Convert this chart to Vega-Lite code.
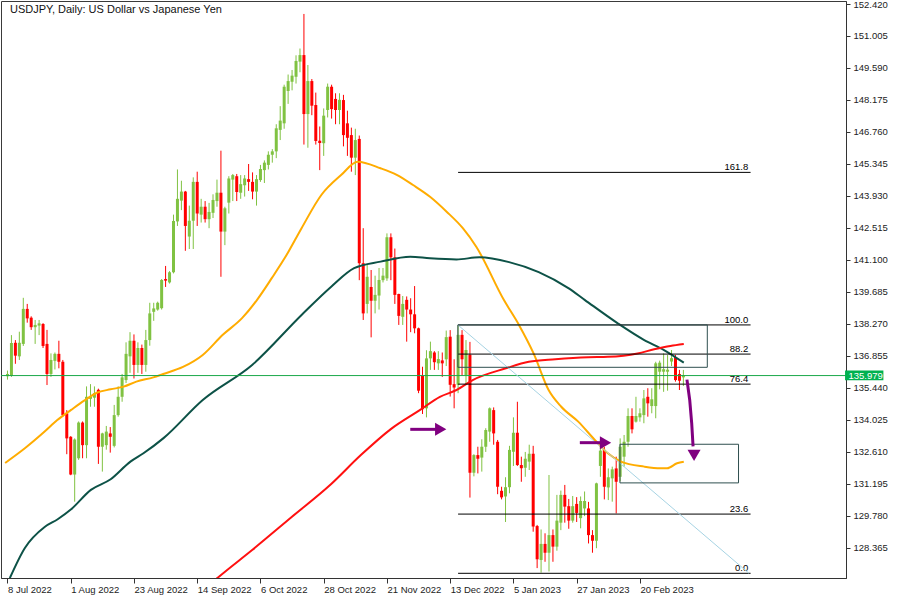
{
"$schema": "https://vega.github.io/schema/vega-lite/v6.json",
"width": 845, "height": 577,
"autosize": {"type": "none"},
"padding": {"left": 1, "top": 1, "right": 54, "bottom": 21},
"background": "white",
"config": {"view": {"stroke": "#3a3a3a", "strokeWidth": 1}, "text": {"font": "Liberation Sans"}},
"datasets": {
"candles": [
{"i":0,"o":135.95,"h":136.2,"l":135.8,"c":136.05},
{"i":1,"o":135.96,"h":137.77,"l":135.92,"c":137.42},
{"i":2,"o":137.43,"h":137.55,"l":136.5,"c":136.86},
{"i":3,"o":136.83,"h":137.92,"l":136.67,"c":137.43},
{"i":4,"o":137.38,"h":139.42,"l":137.29,"c":138.93},
{"i":5,"o":138.93,"h":139.15,"l":138.32,"c":138.51},
{"i":6,"o":138.54,"h":138.6,"l":138.0,"c":138.12},
{"i":7,"o":138.12,"h":138.44,"l":137.38,"c":138.22},
{"i":8,"o":138.19,"h":138.44,"l":137.77,"c":138.29},
{"i":9,"o":138.26,"h":138.3,"l":137.2,"c":137.29},
{"i":10,"o":137.38,"h":138.0,"l":135.56,"c":136.05},
{"i":11,"o":136.05,"h":136.96,"l":135.92,"c":136.67},
{"i":12,"o":136.63,"h":137.0,"l":136.25,"c":136.94},
{"i":13,"o":136.94,"h":137.52,"l":136.3,"c":136.59},
{"i":14,"o":136.59,"h":136.67,"l":134.16,"c":134.23},
{"i":15,"o":134.31,"h":134.45,"l":132.5,"c":133.2},
{"i":16,"o":133.27,"h":133.3,"l":131.57,"c":131.6},
{"i":17,"o":131.6,"h":133.2,"l":130.4,"c":133.15},
{"i":18,"o":132.32,"h":133.95,"l":132.25,"c":133.9},
{"i":19,"o":133.9,"h":133.95,"l":132.32,"c":132.9},
{"i":20,"o":132.9,"h":135.5,"l":132.32,"c":135.04},
{"i":21,"o":134.95,"h":135.6,"l":134.6,"c":135.05},
{"i":22,"o":135.0,"h":135.5,"l":134.6,"c":135.2},
{"i":23,"o":135.35,"h":135.4,"l":132.07,"c":132.83},
{"i":24,"o":132.83,"h":133.45,"l":131.73,"c":133.42},
{"i":25,"o":132.9,"h":133.75,"l":132.7,"c":133.5},
{"i":26,"o":133.42,"h":133.7,"l":132.57,"c":133.27},
{"i":27,"o":132.87,"h":134.68,"l":132.8,"c":134.23},
{"i":28,"o":134.23,"h":135.5,"l":134.16,"c":135.04},
{"i":29,"o":135.04,"h":136.05,"l":134.82,"c":135.9},
{"i":30,"o":135.78,"h":137.45,"l":135.65,"c":136.94},
{"i":31,"o":136.83,"h":137.9,"l":136.1,"c":137.52},
{"i":32,"o":137.52,"h":137.8,"l":135.85,"c":136.45},
{"i":33,"o":136.45,"h":137.45,"l":136.1,"c":137.2},
{"i":34,"o":137.2,"h":137.35,"l":136.05,"c":136.45},
{"i":35,"o":136.45,"h":138.0,"l":136.15,"c":137.55},
{"i":36,"o":137.55,"h":139.2,"l":137.3,"c":138.73},
{"i":37,"o":138.8,"h":139.2,"l":138.4,"c":138.95},
{"i":38,"o":138.9,"h":139.25,"l":138.85,"c":139.2},
{"i":39,"o":138.96,"h":140.25,"l":138.9,"c":140.21},
{"i":40,"o":140.25,"h":140.83,"l":139.9,"c":140.18},
{"i":41,"o":140.1,"h":140.6,"l":140.05,"c":140.55},
{"i":42,"o":140.55,"h":143.1,"l":140.5,"c":142.82},
{"i":43,"o":142.8,"h":145.1,"l":142.6,"c":143.8},
{"i":44,"o":143.72,"h":144.6,"l":143.3,"c":144.12},
{"i":45,"o":144.12,"h":144.15,"l":141.5,"c":142.6},
{"i":46,"o":142.13,"h":143.5,"l":141.58,"c":142.83},
{"i":47,"o":142.83,"h":144.75,"l":141.58,"c":144.55},
{"i":48,"o":144.55,"h":145.0,"l":142.6,"c":143.15},
{"i":49,"o":143.1,"h":143.8,"l":142.75,"c":143.45},
{"i":50,"o":143.45,"h":143.7,"l":142.75,"c":142.9},
{"i":51,"o":142.9,"h":143.62,"l":142.5,"c":143.22},
{"i":52,"o":143.18,"h":144.0,"l":142.95,"c":143.75},
{"i":53,"o":143.7,"h":144.65,"l":143.45,"c":144.07},
{"i":54,"o":144.07,"h":145.93,"l":140.35,"c":142.35},
{"i":55,"o":142.35,"h":143.45,"l":141.75,"c":143.38},
{"i":56,"o":143.63,"h":144.8,"l":143.15,"c":144.7},
{"i":57,"o":144.65,"h":144.9,"l":143.7,"c":144.85},
{"i":58,"o":144.8,"h":144.9,"l":143.7,"c":144.1},
{"i":59,"o":144.07,"h":144.85,"l":143.8,"c":144.45},
{"i":60,"o":144.4,"h":144.85,"l":143.9,"c":144.7},
{"i":61,"o":144.67,"h":145.34,"l":144.15,"c":144.55},
{"i":62,"o":144.55,"h":144.97,"l":143.78,"c":144.12},
{"i":63,"o":144.12,"h":144.85,"l":143.5,"c":144.67},
{"i":64,"o":144.63,"h":145.3,"l":144.55,"c":145.12},
{"i":65,"o":145.07,"h":145.5,"l":144.5,"c":145.4},
{"i":66,"o":145.3,"h":145.9,"l":145.1,"c":145.75},
{"i":67,"o":145.75,"h":146.0,"l":145.4,"c":145.9},
{"i":68,"o":145.9,"h":147.1,"l":145.6,"c":146.92},
{"i":69,"o":146.85,"h":147.9,"l":146.4,"c":147.26},
{"i":70,"o":147.14,"h":148.85,"l":146.9,"c":148.76},
{"i":71,"o":148.57,"h":149.3,"l":148.0,"c":149.01},
{"i":72,"o":148.98,"h":149.5,"l":148.6,"c":149.25},
{"i":73,"o":149.2,"h":150.15,"l":148.9,"c":149.9},
{"i":74,"o":149.87,"h":150.45,"l":149.4,"c":150.16},
{"i":75,"o":150.16,"h":151.98,"l":146.2,"c":147.55},
{"i":76,"o":147.55,"h":149.72,"l":146.06,"c":149.01},
{"i":77,"o":149.01,"h":149.1,"l":147.5,"c":147.92},
{"i":78,"o":147.95,"h":148.5,"l":146.2,"c":146.36},
{"i":79,"o":146.37,"h":147.0,"l":145.07,"c":146.27},
{"i":80,"o":146.26,"h":147.8,"l":145.7,"c":147.48},
{"i":81,"o":147.73,"h":148.9,"l":147.4,"c":148.76},
{"i":82,"o":148.76,"h":148.85,"l":147.35,"c":147.77},
{"i":83,"o":148.22,"h":148.47,"l":147.1,"c":147.73},
{"i":84,"o":147.73,"h":148.47,"l":147.1,"c":148.18},
{"i":85,"o":148.17,"h":148.4,"l":146.12,"c":146.62},
{"i":86,"o":147.14,"h":147.7,"l":145.7,"c":146.5},
{"i":87,"o":146.62,"h":146.95,"l":145.0,"c":145.62},
{"i":88,"o":145.62,"h":146.9,"l":144.85,"c":146.4},
{"i":89,"o":146.45,"h":146.6,"l":140.2,"c":140.95},
{"i":90,"o":140.95,"h":142.5,"l":138.44,"c":138.73},
{"i":91,"o":139.15,"h":140.87,"l":138.73,"c":140.35},
{"i":92,"o":139.9,"h":140.65,"l":137.67,"c":139.29},
{"i":93,"o":139.29,"h":140.4,"l":138.73,"c":139.55},
{"i":94,"o":139.52,"h":140.74,"l":138.9,"c":140.21},
{"i":95,"o":140.2,"h":140.74,"l":140.1,"c":140.4},
{"i":96,"o":140.28,"h":142.27,"l":140.17,"c":142.1},
{"i":97,"o":142.1,"h":142.27,"l":140.2,"c":141.21},
{"i":98,"o":141.21,"h":141.6,"l":139.15,"c":139.55},
{"i":99,"o":139.59,"h":139.6,"l":138.22,"c":138.62},
{"i":100,"o":138.58,"h":139.5,"l":138.22,"c":139.15},
{"i":101,"o":139.33,"h":139.48,"l":137.48,"c":138.9},
{"i":102,"o":138.9,"h":139.4,"l":137.9,"c":138.69},
{"i":103,"o":138.69,"h":139.94,"l":137.85,"c":138.07},
{"i":104,"o":138.07,"h":138.1,"l":135.2,"c":135.31},
{"i":105,"o":135.96,"h":136.37,"l":134.28,"c":134.49},
{"i":106,"o":134.53,"h":137.1,"l":134.13,"c":136.74},
{"i":107,"o":136.74,"h":137.48,"l":136.23,"c":137.06},
{"i":108,"o":137.0,"h":137.06,"l":136.23,"c":136.57},
{"i":109,"o":136.52,"h":137.06,"l":136.23,"c":136.71},
{"i":110,"o":136.65,"h":137.0,"l":135.92,"c":136.52},
{"i":111,"o":136.7,"h":137.97,"l":136.4,"c":137.68},
{"i":112,"o":137.7,"h":137.99,"l":135.05,"c":135.57},
{"i":113,"o":135.6,"h":136.7,"l":134.53,"c":135.45},
{"i":114,"o":135.57,"h":138.22,"l":135.2,"c":137.78},
{"i":115,"o":137.78,"h":137.99,"l":135.96,"c":136.7},
{"i":116,"o":135.99,"h":137.55,"l":135.57,"c":137.11},
{"i":117,"o":136.9,"h":137.47,"l":130.58,"c":131.68},
{"i":118,"o":131.68,"h":132.5,"l":131.52,"c":132.46},
{"i":119,"o":132.46,"h":132.83,"l":131.65,"c":132.3},
{"i":120,"o":132.35,"h":133.16,"l":131.73,"c":132.83},
{"i":121,"o":132.83,"h":133.65,"l":132.6,"c":133.57},
{"i":122,"o":133.5,"h":134.57,"l":133.05,"c":134.53},
{"i":123,"o":134.45,"h":134.57,"l":132.92,"c":133.42},
{"i":124,"o":133.05,"h":133.13,"l":130.73,"c":131.06},
{"i":125,"o":130.88,"h":131.06,"l":130.5,"c":130.59},
{"i":126,"o":130.63,"h":131.48,"l":129.5,"c":131.04},
{"i":127,"o":131.04,"h":132.87,"l":130.77,"c":132.69},
{"i":128,"o":132.61,"h":134.13,"l":131.98,"c":133.45},
{"i":129,"o":133.45,"h":134.82,"l":131.98,"c":132.02},
{"i":130,"o":132.02,"h":132.39,"l":131.28,"c":131.88},
{"i":131,"o":131.9,"h":132.6,"l":131.5,"c":132.3},
{"i":132,"o":132.17,"h":132.92,"l":131.8,"c":132.52},
{"i":133,"o":132.52,"h":132.87,"l":129.07,"c":129.3},
{"i":134,"o":129.32,"h":129.37,"l":127.46,"c":127.85},
{"i":135,"o":127.82,"h":129.17,"l":127.26,"c":128.53},
{"i":136,"o":128.53,"h":129.0,"l":127.74,"c":128.14},
{"i":137,"o":128.14,"h":131.58,"l":127.31,"c":128.92},
{"i":138,"o":128.92,"h":129.17,"l":127.74,"c":128.41},
{"i":139,"o":128.41,"h":130.7,"l":128.23,"c":129.56},
{"i":140,"o":129.47,"h":130.89,"l":129.14,"c":130.7},
{"i":141,"o":130.7,"h":131.14,"l":129.47,"c":130.18},
{"i":142,"o":130.2,"h":130.52,"l":129.2,"c":129.56},
{"i":143,"o":129.56,"h":130.65,"l":129.47,"c":130.2},
{"i":144,"o":130.3,"h":130.6,"l":129.5,"c":129.9},
{"i":145,"o":129.67,"h":130.63,"l":129.22,"c":130.43},
{"i":146,"o":130.1,"h":130.85,"l":129.76,"c":130.43},
{"i":147,"o":130.1,"h":130.39,"l":128.55,"c":128.92},
{"i":148,"o":128.92,"h":129.14,"l":128.14,"c":128.67},
{"i":149,"o":128.67,"h":131.24,"l":128.34,"c":131.21},
{"i":150,"o":131.98,"h":133.16,"l":131.5,"c":132.66},
{"i":151,"o":132.69,"h":132.83,"l":130.5,"c":131.06},
{"i":152,"o":131.03,"h":131.87,"l":130.47,"c":131.48},
{"i":153,"o":131.43,"h":131.95,"l":130.4,"c":131.83},
{"i":154,"o":131.87,"h":132.39,"l":129.88,"c":131.28},
{"i":155,"o":131.5,"h":133.2,"l":131.3,"c":132.83},
{"i":156,"o":132.39,"h":133.35,"l":131.95,"c":133.05},
{"i":157,"o":133.05,"h":134.53,"l":132.83,"c":134.19},
{"i":158,"o":134.19,"h":134.53,"l":133.42,"c":133.6},
{"i":159,"o":133.94,"h":135.04,"l":133.9,"c":134.19},
{"i":160,"o":134.13,"h":134.53,"l":133.94,"c":134.31},
{"i":161,"o":134.23,"h":135.34,"l":133.87,"c":134.97},
{"i":162,"o":135.04,"h":135.42,"l":134.16,"c":134.75},
{"i":163,"o":134.63,"h":135.42,"l":134.31,"c":134.93},
{"i":164,"o":134.63,"h":136.59,"l":134.09,"c":136.52},
{"i":165,"o":136.15,"h":136.64,"l":135.37,"c":136.55},
{"i":166,"o":136.15,"h":136.96,"l":135.26,"c":136.26},
{"i":167,"o":136.15,"h":136.89,"l":135.31,"c":136.24},
{"i":168,"o":136.6,"h":137.11,"l":136.4,"c":136.75},
{"i":169,"o":136.8,"h":136.89,"l":135.71,"c":135.78},
{"i":170,"o":136.05,"h":136.23,"l":135.34,"c":135.75},
{"i":171,"o":135.9,"h":136.23,"l":135.52,"c":135.98}
],
"ma": [
{"s":"a","i":-0.6,"v":132.11},{"s":"a","i":4.4,"v":132.76},{"s":"a","i":9.4,"v":133.5},{"s":"a","i":12.6,"v":134.01},{"s":"a","i":16.1,"v":134.46},{"s":"a","i":19.4,"v":134.87},{"s":"a","i":22.6,"v":135.22},{"s":"a","i":26.1,"v":135.37},{"s":"a","i":29.4,"v":135.49},{"s":"a","i":32.6,"v":135.71},{"s":"a","i":36.9,"v":135.9},{"s":"a","i":39.4,"v":136.05},{"s":"a","i":44.4,"v":136.36},{"s":"a","i":49.4,"v":136.89},{"s":"a","i":54.4,"v":137.77},{"s":"a","i":59.4,"v":138.53},{"s":"a","i":63.1,"v":139.32},{"s":"a","i":66.9,"v":140.3},{"s":"a","i":70.6,"v":141.31},{"s":"a","i":74.4,"v":142.5},{"s":"a","i":79.4,"v":143.97},{"s":"a","i":84.4,"v":144.85},{"s":"a","i":88.6,"v":145.44},{"s":"a","i":94.4,"v":145.15},{"s":"a","i":98.6,"v":144.85},{"s":"a","i":102.6,"v":144.41},{"s":"a","i":106.9,"v":143.89},{"s":"a","i":111.1,"v":143.23},{"s":"a","i":115.2,"v":142.5},{"s":"a","i":118.6,"v":141.68},{"s":"a","i":125.6,"v":139.32},{"s":"a","i":129.4,"v":138.22},{"s":"a","i":133.1,"v":136.96},{"s":"a","i":136.9,"v":135.34},{"s":"a","i":140.1,"v":134.6},{"s":"a","i":144.4,"v":133.94},{"s":"a","i":148.6,"v":133.13},{"s":"a","i":151.9,"v":132.54},{"s":"a","i":155.2,"v":132.17},{"s":"a","i":161.1,"v":131.95},{"s":"a","i":165.2,"v":131.88},{"s":"a","i":166.9,"v":131.88},{"s":"a","i":169.4,"v":132.1},{"s":"a","i":171.1,"v":132.17},
{"s":"b","i":0.6,"v":127.02},{"s":"b","i":4.4,"v":128.35},{"s":"b","i":9.4,"v":129.28},{"s":"b","i":12.7,"v":129.62},{"s":"b","i":16.1,"v":130.06},{"s":"b","i":21.1,"v":130.92},{"s":"b","i":26.1,"v":131.39},{"s":"b","i":31.1,"v":132.17},{"s":"b","i":34.4,"v":132.54},{"s":"b","i":39.4,"v":133.2},{"s":"b","i":49.4,"v":134.9},{"s":"b","i":61.9,"v":136.45},{"s":"b","i":74.4,"v":138.66},{"s":"b","i":81.9,"v":139.91},{"s":"b","i":87.7,"v":140.73},{"s":"b","i":94.4,"v":141.02},{"s":"b","i":101.9,"v":141.24},{"s":"b","i":106.9,"v":141.17},{"s":"b","i":113.6,"v":141.12},{"s":"b","i":119.4,"v":141.21},{"s":"b","i":126.9,"v":141.0},{"s":"b","i":134.4,"v":140.56},{"s":"b","i":141.9,"v":139.85},{"s":"b","i":146.1,"v":139.32},{"s":"b","i":154.4,"v":138.29},{"s":"b","i":161.1,"v":137.55},{"s":"b","i":166.1,"v":137.11},{"s":"b","i":171.1,"v":136.55},
{"s":"c","i":49.4,"v":126.45},{"s":"c","i":53.1,"v":127.02},{"s":"c","i":61.9,"v":128.26},{"s":"c","i":71.9,"v":129.72},{"s":"c","i":81.9,"v":131.18},{"s":"c","i":89.4,"v":132.46},{"s":"c","i":96.9,"v":133.6},{"s":"c","i":104.4,"v":134.46},{"s":"c","i":109.4,"v":135.04},{"s":"c","i":113.6,"v":135.34},{"s":"c","i":117.7,"v":135.78},{"s":"c","i":126.1,"v":136.3},{"s":"c","i":131.9,"v":136.59},{"s":"c","i":138.6,"v":136.7},{"s":"c","i":146.9,"v":136.79},{"s":"c","i":151.9,"v":136.81},{"s":"c","i":159.4,"v":136.96},{"s":"c","i":163.6,"v":137.14},{"s":"c","i":167.7,"v":137.29},{"s":"c","i":171.1,"v":137.38}
],
"fib": [
{"lv":"161.8","p":144.97},{"lv":"100.0","p":138.22},{"lv":"88.2","p":136.93},{"lv":"76.4","p":135.6},{"lv":"23.6","p":129.85},{"lv":"0.0","p":127.23}
],
"boxes": [
{"i0":113.95,"i1":177.05,"p0":138.22,"p1":136.345},
{"i0":154.95,"i1":184.95,"p0":132.94,"p1":131.23}
],
"diag": [{"i0":113.95,"p0":138.22,"i1":187.6,"p1":127.23}],
"arrows": [
{"a":1,"k":0,"i":101.9,"p":133.6},{"a":1,"k":1,"i":108.6,"p":133.6},
{"a":2,"k":0,"i":144.8,"p":133.01},{"a":2,"k":1,"i":150.2,"p":133.01},
{"a":3,"k":0,"i":171.9,"p":135.8},{"a":3,"k":1,"i":172.6,"p":134.9},{"a":3,"k":2,"i":173.1,"p":133.88},{"a":3,"k":3,"i":173.45,"p":132.85}
],
"heads": [
{"d":"r","i":109.6,"p":133.6},{"d":"r","i":151.3,"p":133.01},{"d":"d","i":173.7,"p":132.45}
],
"last": [{"p":135.979,"t":"135.979"}],
"title": [{"t":"USDJPY, Daily:  US Dollar vs Japanese Yen"}]
},
"layer": [
{"data":{"name":"candles"},
 "mark":{"type":"rule","strokeWidth":1},
 "encoding":{
  "x":{"field":"i","type":"quantitative","title":null,"scale":{"domain":[-0.375,210.875],"nice":false,"zero":false},
   "axis":{"values":[0,16,32,48,64,80,96,112,128,144,160],"tickCount":60,
    "labelExpr":"['8 Jul 2022','1 Aug 2022','23 Aug 2022','14 Sep 2022','6 Oct 2022','28 Oct 2022','21 Nov 2022','13 Dec 2022','5 Jan 2023','27 Jan 2023','20 Feb 2023'][round(datum.value/16)]",
    "labelAlign":"left","labelBaseline":"top","labelPadding":1,"tickSize":5,"tickColor":"#333","domainColor":"#333","labelColor":"#222","labelFont":"Liberation Sans","labelFontSize":9.5,"grid":false,"title":null,"labelFlush":false,"labelOverlap":false,"labelBound":false}},
  "y":{"field":"l","type":"quantitative","title":null,"scale":{"domain":[127.022,152.553],"nice":false,"zero":false},
   "axis":{"orient":"right","values":[128.365,129.78,131.195,132.61,134.025,135.44,136.855,138.27,139.685,141.1,142.515,143.93,145.345,146.76,148.175,149.59,151.005,152.42],"tickCount":60,
    "format":".3f","tickSize":4,"labelPadding":3,"labelAlign":"left","labelBaseline":"middle","labelFont":"Liberation Sans","labelFontSize":9.5,"labelColor":"#222","tickColor":"#333","domainColor":"#333","grid":false,"title":null,"labelFlush":false,"labelOverlap":false,"labelBound":false}},
  "y2":{"field":"h"},
  "color":{"condition":{"test":"datum.c >= datum.o","value":"#80c242"},"value":"#ff0000"}}},
{"data":{"name":"candles"},
 "mark":{"type":"bar","width":3},
 "encoding":{
  "x":{"field":"i","type":"quantitative","title":null},
  "y":{"field":"o","type":"quantitative","title":null},
  "y2":{"field":"c"},
  "color":{"condition":{"test":"datum.c >= datum.o","value":"#80c242"},"value":"#ff0000"}}},
{"data":{"name":"ma"},
 "mark":{"type":"line","strokeWidth":2,"interpolate":"monotone","clip":true},
 "encoding":{
  "x":{"field":"i","type":"quantitative","title":null},
  "y":{"field":"v","type":"quantitative","title":null},
  "color":{"field":"s","type":"nominal","scale":{"domain":["a","b","c"],"range":["#ffac00","#0d5247","#ff1010"]},"legend":null}}},
{"data":{"name":"last"},
 "mark":{"type":"rule","color":"#1aa84a","strokeWidth":1},
 "encoding":{"y":{"field":"p","type":"quantitative","title":null}}},
{"data":{"name":"fib"},
 "mark":{"type":"rule","color":"#000000","strokeWidth":1},
 "encoding":{"x":{"datum":114,"title":null},"x2":{"datum":188},"y":{"field":"p","type":"quantitative","title":null}}},
{"data":{"name":"fib"},
 "mark":{"type":"text","align":"right","baseline":"alphabetic","dy":-2,"fontSize":9.5,"color":"#000000","font":"Liberation Sans"},
 "encoding":{"x":{"datum":187.4,"title":null},"y":{"field":"p","type":"quantitative","title":null},"text":{"field":"lv"}}},
{"data":{"name":"diag"},
 "mark":{"type":"rule","color":"#a6d3e3","strokeWidth":1},
 "encoding":{"x":{"field":"i0","type":"quantitative","title":null},"y":{"field":"p0","type":"quantitative","title":null},"x2":{"field":"i1"},"y2":{"field":"p1"}}},
{"data":{"name":"boxes"},
 "mark":{"type":"rect","fill":"transparent","stroke":"#2f4f4f","strokeWidth":1},
 "encoding":{"x":{"field":"i0","type":"quantitative","title":null},"x2":{"field":"i1"},"y":{"field":"p0","type":"quantitative","title":null},"y2":{"field":"p1"}}},
{"data":{"name":"arrows"},
 "mark":{"type":"line","color":"#800080","strokeWidth":3},
 "encoding":{"x":{"field":"i","type":"quantitative","title":null},"y":{"field":"p","type":"quantitative","title":null},"detail":{"field":"a"},"order":{"field":"k"}}},
{"data":{"name":"heads"},
 "mark":{"type":"point","filled":true,"color":"#800080","opacity":1,"size":170},
 "encoding":{"x":{"field":"i","type":"quantitative","title":null},"y":{"field":"p","type":"quantitative","title":null},
  "shape":{"field":"d","type":"nominal","scale":{"domain":["r","d"],"range":["triangle-right","triangle-down"]},"legend":null}}},
{"data":{"name":"last"},
 "mark":{"type":"rect","color":"#00b14f"},
 "encoding":{"x":{"datum":211.9,"title":null},"x2":{"datum":221.6},"y":{"datum":136.2,"title":null},"y2":{"datum":135.77}}},
{"data":{"name":"last"},
 "mark":{"type":"text","align":"left","baseline":"middle","fontSize":9.5,"color":"#ffffff","font":"Liberation Sans"},
 "encoding":{"x":{"datum":212.75,"title":null},"y":{"field":"p","type":"quantitative","title":null},"text":{"field":"t"}}},
{"data":{"name":"title"},
 "mark":{"type":"text","align":"left","baseline":"alphabetic","fontSize":11,"color":"#111111","font":"Liberation Sans"},
 "encoding":{"x":{"datum":0.625,"title":null},"y":{"datum":152.01,"title":null},"text":{"field":"t"}}}
]
}
